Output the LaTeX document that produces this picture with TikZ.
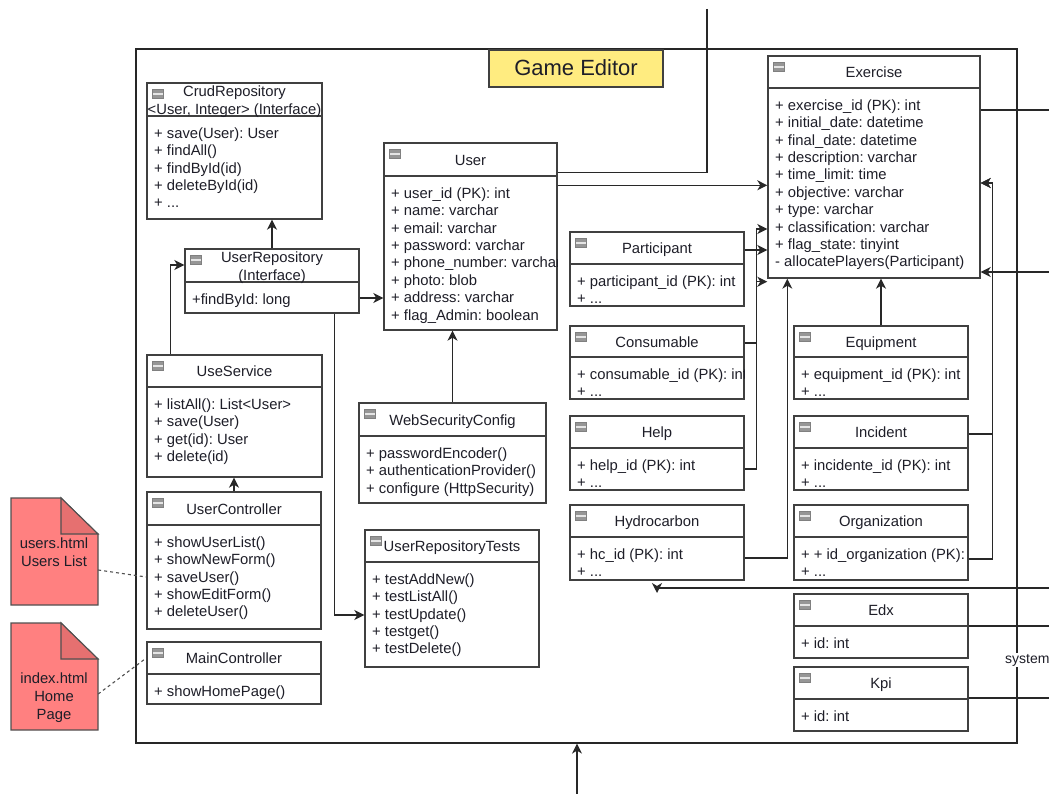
\documentclass[tikz,border=0pt]{standalone}
\usepackage{fontspec}
\setmainfont{Liberation Sans}
\usetikzlibrary{arrows.meta,fit,calc}
\frenchspacing

\definecolor{ink}{RGB}{30,30,40}
\definecolor{boxline}{RGB}{64,64,64}
\definecolor{wirecol}{RGB}{40,40,40}
\definecolor{titleyellow}{RGB}{255,236,128}
\definecolor{notefill}{RGB}{255,128,128}
\definecolor{notefold}{RGB}{230,112,112}
\definecolor{notedraw}{RGB}{80,80,80}
\definecolor{iconfill}{RGB}{150,150,150}

\tikzset{
  classframe/.style={draw=boxline, line width=1.4pt, fill=white, inner sep=0pt},
  classline/.style={draw=boxline, line width=1.4pt},
  minusicon/.style={draw=gray, fill=iconfill, minimum width=11pt, minimum height=9pt, inner sep=0pt,
    path picture={\draw[white!80!gray, line width=1.2pt] (path picture bounding box.west) -- (path picture bounding box.east);}},
  classtitle/.style={font=\fontsize{14.8}{17.4}\selectfont, text=ink, align=center, inner sep=0pt},
  classbody/.style={font=\fontsize{14.8}{17.4}\selectfont, text=ink, align=left, inner sep=0pt, anchor=north west},
  notetext/.style={font=\fontsize{14.8}{18}\selectfont, text=ink, align=center, inner sep=0pt},
  wire/.style={draw=wirecol, line width=1.2pt},
  wirearrow/.style={wire, -{Stealth[length=10pt,width=10pt,inset=3pt]}},
  notelink/.style={draw=notedraw, line width=1.1pt, dash pattern=on 3pt off 3pt},
}

% class box: name, x1, y1, x2, y2, header divider y, title, body lines
\newcommand{\umlclass}[8]{%
  \node[classframe, fit={(#2,#3) (#4,#5)}] (#1) {};
  \draw[classline] (#2,#6) -- (#4,#6);
  \node[minusicon] (#1-icon) at (#2+11,#3+11) {};
  \node[classtitle] (#1-title) at ({(#2+#4)/2},{(#3+#6)/2+2.5}) {\strut #7};
  \begin{scope}
    \clip (#2,#6) rectangle (#4,#5);
    \node[classbody] (#1-body) at (#2+7,#6+10) {\strut #8};
  \end{scope}
}

% folded note: name, x1, y1, x2, y2
\newcommand{\foldnote}[5]{%
  \filldraw[fill=notefill, draw=notedraw, line width=1.1pt]
    (#2,#3) -- (#4-37,#3) -- (#4,#3+36) -- (#4,#5) -- (#2,#5) -- cycle;
  \filldraw[fill=notefold, draw=notedraw, line width=1.1pt]
    (#4-37,#3) -- (#4-37,#3+36) -- (#4,#3+36) -- cycle;
  \node[fit={(#2,#3) (#4,#5)}, inner sep=0pt] (#1) {};
}

\begin{document}
\begin{tikzpicture}[x=1pt,y=-1pt]
  \fill[white] (0,0) rectangle (1049,794);
  \useasboundingbox (0,0) rectangle (1049,794);

  % outer package frame and its title
  \node[fit={(136,49) (1017,743)}, inner sep=0pt, draw=black!85, line width=1.2pt] (frame) {};
  \node[fit={(489,50) (663,87)}, inner sep=0pt, draw=boxline, line width=1.2pt, fill=titleyellow] (gametitle) {};
  \node[font=\fontsize{22}{26}\selectfont, text=ink, inner sep=0pt, text height=16pt, text depth=5pt]
    (gametitletext) at ([yshift=-1.5pt]gametitle.center) {Game Editor};

  % html views
  \foldnote{usersnote}{11}{498}{98}{605}
  \node[notetext] (userstext) at (54,552) {users.html\\Users List};
  \foldnote{indexnote}{11}{623}{98}{730}
  \node[notetext] (indextext) at (54,698) {index.html\\Home\\Page};

  % user side
  \umlclass{crud}{147}{83}{322}{219}{116}{CrudRepository\\\strut <User, Integer> (Interface)}
    {+ save(User): User\\+ findAll()\\+ findById(id)\\+ deleteById(id)\\+ ...}
  \umlclass{userrepo}{185}{249}{359}{313}{282}{UserRepository\\\strut (Interface)}
    {+findById: long}
  \umlclass{useservice}{147}{355}{322}{477}{387}{UseService}
    {+ listAll(): List<User>\\+ save(User)\\+ get(id): User\\+ delete(id)}
  \umlclass{userctrl}{147}{492}{321}{629}{525}{UserController}
    {+ showUserList()\\+ showNewForm()\\+ saveUser()\\+ showEditForm()\\+ deleteUser()}
  \umlclass{mainctrl}{147}{642}{321}{704}{674}{MainController}
    {+ showHomePage()}
  \umlclass{user}{384}{143}{557}{330}{176}{User}
    {+ user\_id (PK): int\\+ name: varchar\\+ email: varchar\\+ password: varchar\\+ phone\_number: varchar\\+ photo: blob\\+ address: varchar\\+ flag\_Admin: boolean}
  \umlclass{wsc}{359}{403}{546}{503}{436}{WebSecurityConfig}
    {+ passwordEncoder()\\+ authenticationProvider()\\+ configure (HttpSecurity)}
  \umlclass{tests}{365}{530}{539}{667}{562}{UserRepositoryTests}
    {+ testAddNew()\\+ testListAll()\\+ testUpdate()\\+ testget()\\+ testDelete()}

  % exercise side
  \umlclass{exercise}{768}{56}{980}{278}{88}{Exercise}
    {+ exercise\_id (PK): int\\+ initial\_date: datetime\\+ final\_date: datetime\\+ description: varchar\\+ time\_limit: time\\+ objective: varchar\\+ type: varchar\\+ classification: varchar\\+ flag\_state: tinyint\\- allocatePlayers(Participant)}
  \umlclass{participant}{570}{232}{744}{306}{264}{Participant}
    {+ participant\_id (PK): int\\+ ...}
  \umlclass{consumable}{570}{326}{744}{399}{357}{Consumable}
    {+ consumable\_id (PK): int\\+ ...}
  \umlclass{help}{570}{416}{744}{490}{448}{Help}
    {+ help\_id (PK): int\\+ ...}
  \umlclass{hydro}{570}{505}{744}{580}{537}{Hydrocarbon}
    {+ hc\_id (PK): int\\+ ...}
  \umlclass{equipment}{794}{326}{968}{399}{357}{Equipment}
    {+ equipment\_id (PK): int\\+ ...}
  \umlclass{incident}{794}{416}{968}{490}{448}{Incident}
    {+ incidente\_id (PK): int\\+ ...}
  \umlclass{organization}{794}{505}{968}{580}{537}{Organization}
    {+ + id\_organization (PK): int\\+ ...}
  \umlclass{edx}{794}{594}{968}{658}{626}{Edx}
    {+ id: int}
  \umlclass{kpi}{794}{667}{968}{731}{699}{Kpi}
    {+ id: int}

  % user side connectors
  \coordinate (topin) at (707,9);
  \draw[wire] (topin) |- ([yshift=-30pt]user.north east);
  \draw[wirearrow] ([yshift=-43pt]user.north east) coordinate (ux) -- (ux -| exercise.west);
  \draw[wirearrow] (userrepo.north) -- (userrepo.north |- crud.south);
  \draw[wirearrow] ([yshift=-17pt]userrepo.east) coordinate (rx) -- (rx -| user.west);
  \draw[wirearrow] ([xshift=24pt]useservice.north west) |- ([yshift=16pt]userrepo.west);
  \draw[wirearrow] (userctrl.north) -- (userctrl.north |- useservice.south);
  \draw[wirearrow] ([xshift=-25pt]userrepo.south east) |- ([yshift=-16.5pt]tests.west);
  \draw[wirearrow] (wsc.north) -- (wsc.north |- user.south);
  \draw[notelink] ([yshift=-18.5pt]usersnote.east) -- ([yshift=-16.5pt]userctrl.west);
  \draw[notelink] ([yshift=-17.5pt]indexnote.east) -- ([yshift=15pt]mainctrl.west);

  % exercise side connectors
  \draw[wirearrow] ([yshift=19pt]participant.east) coordinate (px) -- (px -| exercise.west);
  \draw[wirearrow] ([yshift=19.5pt]consumable.east) -- ++(12,0) |- ([yshift=-62pt]exercise.west);
  \draw[wirearrow] ([yshift=-16pt]help.east) -- ++(12,0) |- ([yshift=-3pt]exercise.south west);
  \draw[wirearrow] ([yshift=-15.5pt]hydro.east) -| ([xshift=20pt]exercise.south west);
  \draw[wirearrow] (equipment.north) -- (equipment.north |- exercise.south);
  \draw[wirearrow] ([yshift=19pt]incident.east) -- ++(24,0) |- ([yshift=-16pt]exercise.east);
  \draw[wirearrow] ([yshift=-16.5pt]organization.east) -- ++(24,0) |- ([yshift=-16pt]exercise.east);

  % links leaving the package
  \coordinate (sysin) at (1049,272);
  \draw[wirearrow] (sysin) -- (sysin -| exercise.east);
  \coordinate (sysout) at (1049,110);
  \draw[wire] ([yshift=57pt]exercise.east) -- (sysout);
  \coordinate (sysin2) at (1049,588);
  \draw[wirearrow] (sysin2) -- (sysin2 -| hydro.south) -- ++(0,5);
  \coordinate (edxout) at (1049,626);
  \draw[wire] (edx.east) -- (edxout);
  \coordinate (kpiout) at (1049,698);
  \draw[wire] ([yshift=1pt]kpi.east) -- (kpiout);
  \coordinate (bottomin) at (577,794);
  \draw[wirearrow] (bottomin) -- (bottomin |- frame.south);

  \node[font=\fontsize{14}{17}\selectfont, text=ink, fill=white, inner sep=1pt, anchor=west] (syslabel) at (1004,660) {system};
\end{tikzpicture}
\end{document}
